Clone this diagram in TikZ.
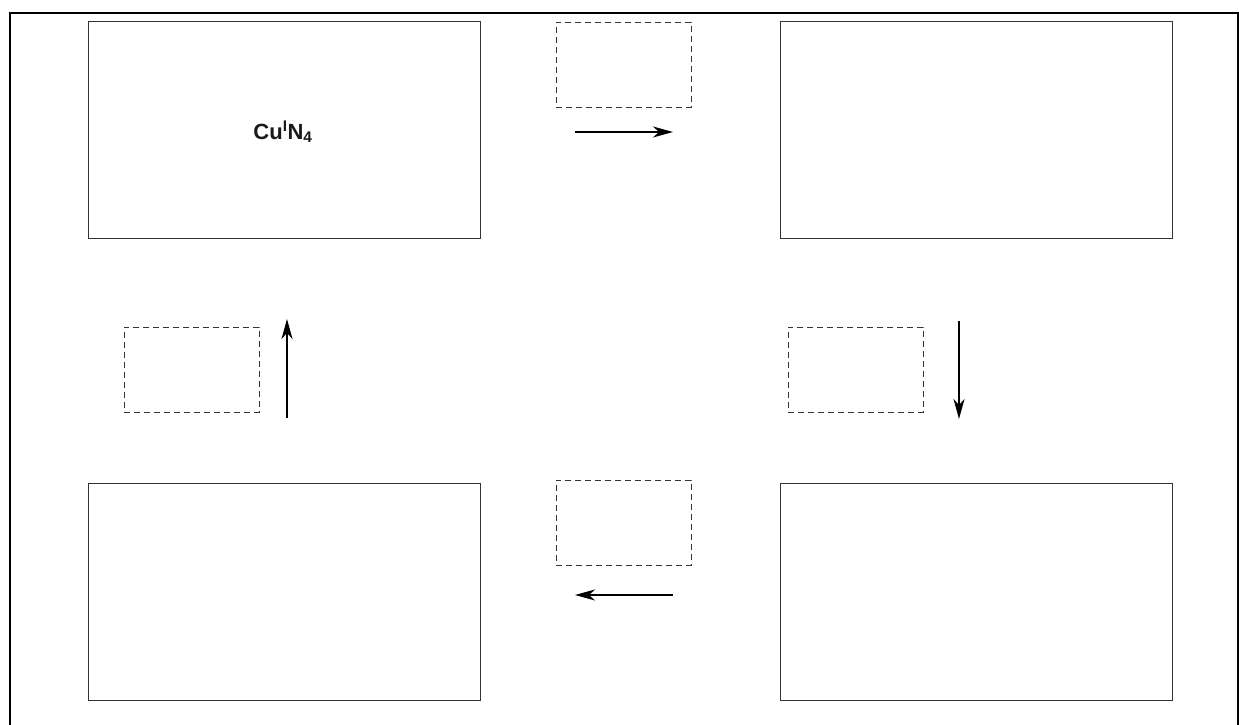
\documentclass[tikz,border=0pt]{standalone}
\usepackage{fontspec}
\setmainfont{Liberation Sans}
\usetikzlibrary{arrows.meta, positioning}
\definecolor{ink}{HTML}{1A1A1A}
\definecolor{edgeA}{HTML}{333333}
\tikzset{
  frameline/.style={draw=black, line width=2pt},
  stagebox/.style={draw=edgeA, line width=1pt, minimum width=392pt, minimum height=217pt, inner sep=0pt},
  condbox/.style={draw=edgeA, line width=0.9pt, dash pattern=on 6pt off 4pt, minimum width=135pt, minimum height=85pt, inner sep=0pt},
  steparrow/.style={draw=black, line width=1.6pt, -{Stealth[length=20pt, width=11pt, inset=6pt]}},
  species/.style={font=\bfseries\fontsize{22}{26}\selectfont, text=ink}
}

\begin{document}
\begin{tikzpicture}[x=1pt,y=1pt]
\useasboundingbox (0,0) rectangle (1239,725);

% outer frame
\draw[frameline] (10,-5) |- (1238,712) -- (1238,-5);

% four stages of the cycle
\node[stagebox] (stageTL) at (284,594.5) {};
\node[species] (cuN) at (283,593) {Cu\textsuperscript{I}N\textsubscript{4}};
\node[stagebox] (stageTR) at (976,594.5) {};
\node[stagebox] (stageBR) at (976,132.5) {};
\node[stagebox] (stageBL) at (284,132.5) {};

% placeholders for reagents
\node[condbox] (condTop) at (623.5,660.5) {};
\node[condbox] (condRight) at (855.5,355.5) {};
\node[condbox] (condBottom) at (623.5,202.5) {};
\node[condbox] (condLeft) at (191.5,355.5) {};

% arrow ends
\coordinate (topS) at (575,593);
\coordinate (topE) at (673,593);
\coordinate (rightS) at (959,404);
\coordinate (rightE) at (959,306);
\coordinate (botS) at (673,130);
\coordinate (botE) at (575,130);
\coordinate (leftS) at (287,307);
\coordinate (leftE) at (287,406);

\draw[steparrow] (topS) -- (topE);
\draw[steparrow] (rightS) -- (rightE);
\draw[steparrow] (botS) -- (botE);
\draw[steparrow] (leftS) -- (leftE);

\end{tikzpicture}
\end{document}
